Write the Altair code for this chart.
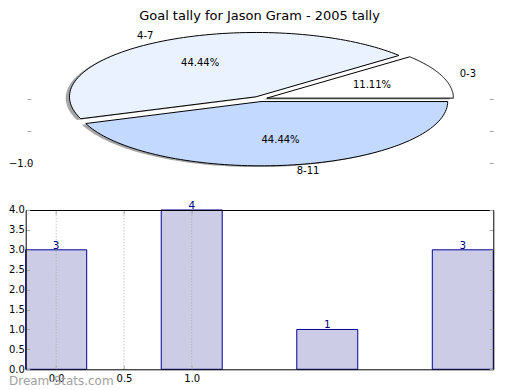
import altair as alt
import pandas as pd

# ---------------- data ----------------
pie_labels = ["0-3", "4-7", "8-11"]
pie_counts = [1, 4, 4]
pie_colors = ["#ffffff", "#eaf2ff", "#c3d9ff"]

bar_positions = [0, 1, 2, 3]
bar_counts = [3, 4, 1, 3]

pie_tick_values = [0.0, -0.5, -1.0]
bar_y_ticks = [0.0, 0.5, 1.0, 1.5, 2.0, 2.5, 3.0, 3.5, 4.0]
bar_x_ticks = [0.0, 0.5, 1.0]

chart_title = "Goal tally for Jason Gram - 2005 tally"
watermark = "Dream-Stats.com"

# ---------------- style / geometry ----------------
FONT = "DejaVu Sans"
W, H = 467.6, 349.3
EXPLODE = 0.04
SHADOW = 0.02
N = 90
BAR_HALF = 0.225
LABEL_DIST = 1.1
PCT_DIST = 0.6

pie_df = pd.DataFrame({"label": pie_labels, "value": pie_counts,
                       "order": list(range(len(pie_labels)))})
bar_df = pd.DataFrame({"pos": bar_positions, "count": bar_counts})
grid_df = pd.DataFrame({"tick": bar_x_ticks})

XP = alt.Scale(domain=[-1, 1], range=[47.5, 420.7], nice=False, zero=False)
YP = alt.Scale(domain=[-1, 1], range=[143.3, 14.7], nice=False, zero=False)
XB = alt.Scale(domain=[bar_positions[0] - BAR_HALF, bar_positions[-1] + BAR_HALF],
               range=[0, W], nice=False, zero=False)
YB = alt.Scale(domain=[0, max(bar_counts)], range=[H, 190], nice=False, zero=False)

TICKS = dict(tickColor="#aaaaaa", tickWidth=1, tickSize={"expr": "-4"},
             domainColor="black", domainWidth=1, grid=False,
             labelFont=FONT, labelFontSize=10, labelColor="black")

pie_left_axis = alt.Axis(orient="left", values=pie_tick_values, format=".1f",
                         labelExpr="datum.value == -1 ? datum.label : ''",
                         labelAlign="left", labelBaseline="middle", labelPadding=22.5,
                         offset=-1.3, domain=False, title=None, **TICKS)
pie_right_axis = alt.Axis(orient="right", values=pie_tick_values, labels=False,
                          domain=False, title=None, **TICKS)

bar_left_axis = alt.Axis(orient="left", values=bar_y_ticks, format=".1f",
                         labelPadding=5.4, labelBaseline="middle", zindex=1,
                         title=None, **TICKS)
bar_right_axis = alt.Axis(orient="right", values=bar_y_ticks, labels=False,
                          zindex=1, title=None, **TICKS)
bar_bottom_axis = alt.Axis(orient="bottom", values=bar_x_ticks, format=".1f",
                           labelPadding=8, zindex=1,
                           title=watermark, titleX=-17.2, titleY=15.5,
                           titleAlign="left", titleBaseline="alphabetic",
                           titleAngle=0, titleFont=FONT, titleFontSize=12,
                           titleFontWeight="normal", titleColor="#a0a0a0",
                           **TICKS)
bar_top_axis = alt.Axis(orient="top", values=bar_x_ticks, labels=False,
                        offset=-190, zindex=1, title=None, **TICKS)


def pie_base():
    return (
        alt.Chart(pie_df)
        .transform_window(cum="sum(value)", sort=[alt.SortField("order")])
        .transform_joinaggregate(total="sum(value)")
        .transform_calculate(a0="2*PI*(datum.cum - datum.value)/datum.total",
                             a1="2*PI*datum.cum/datum.total")
        .transform_calculate(mid="(datum.a0 + datum.a1)/2")
        .transform_calculate(ex=f"{EXPLODE}*cos(datum.mid)",
                             ey=f"{EXPLODE}*sin(datum.mid)")
    )


def pie_outline():
    return (
        pie_base()
        .transform_calculate(k=f"sequence(-1, {N + 2})")
        .transform_flatten(["k"])
        .transform_calculate(
            t=f"datum.a0 + (datum.a1 - datum.a0) * clamp(datum.k, 0, {N}) / {N}",
            rim=f"(datum.k >= 0 && datum.k <= {N}) ? 1 : 0")
        .transform_calculate(px="datum.ex + datum.rim * cos(datum.t)",
                             py="datum.ey + datum.rim * sin(datum.t)")
    )


shadow = (
    pie_outline()
    .transform_calculate(sx=f"datum.px - {SHADOW}", sy=f"datum.py - {SHADOW}")
    .mark_line(fill="#4d4d4d", fillOpacity=0.5, strokeOpacity=0, strokeWidth=0)
    .encode(x=alt.X("sx:Q", scale=XP, axis=None),
            y=alt.Y("sy:Q", scale=YP, axis=pie_right_axis),
            detail="label:N", order="k:Q")
)

slices = (
    pie_outline()
    .mark_line(stroke="black", strokeWidth=1)
    .encode(x=alt.X("px:Q", scale=XP, axis=None),
            y=alt.Y("py:Q", scale=YP, axis=pie_left_axis),
            fill=alt.Fill("label:N", scale=alt.Scale(domain=pie_labels, range=pie_colors),
                          legend=None),
            order="k:Q")
)

lab = pie_base().transform_calculate(
    lx=f"{LABEL_DIST + EXPLODE}*cos(datum.mid)",
    ly=f"{LABEL_DIST + EXPLODE}*sin(datum.mid)")

lab_right = (
    lab.transform_filter("datum.lx >= 0")
    .mark_text(align="left", baseline="middle", font=FONT, fontSize=10, color="black")
    .encode(x=alt.X("lx:Q", scale=XP, axis=None),
            y=alt.Y("ly:Q", scale=YP, axis=None), text="label:N")
)
lab_left = (
    lab.transform_filter("datum.lx < 0")
    .mark_text(align="right", baseline="middle", font=FONT, fontSize=10, color="black")
    .encode(x=alt.X("lx:Q", scale=XP, axis=None),
            y=alt.Y("ly:Q", scale=YP, axis=None), text="label:N")
)

pct = (
    pie_base()
    .transform_calculate(tx=f"{PCT_DIST + EXPLODE}*cos(datum.mid)",
                         ty=f"{PCT_DIST + EXPLODE}*sin(datum.mid)",
                         pct="format(100*datum.value/datum.total, '.2f') + '%'")
    .mark_text(align="center", baseline="middle", font=FONT, fontSize=10, color="black")
    .encode(x=alt.X("tx:Q", scale=XP, axis=None),
            y=alt.Y("ty:Q", scale=YP, axis=None), text="pct:N")
)

bars = (
    alt.Chart(bar_df)
    .transform_calculate(x0=f"datum.pos - {BAR_HALF}", x1=f"datum.pos + {BAR_HALF}")
    .mark_rect(fill="#ccccE6", stroke="#00009a", strokeWidth=1)
    .encode(x=alt.X("x0:Q", scale=XB, axis=bar_bottom_axis),
            x2="x1:Q",
            y=alt.Y("count:Q", scale=YB, axis=bar_left_axis),
            y2=alt.Y2Datum(0))
)

grid = (
    alt.Chart(grid_df)
    .mark_rule(stroke="#aaaaaa", strokeWidth=1, strokeDash=[1, 2])
    .encode(x=alt.X("tick:Q", scale=XB, axis=None),
            y=alt.YDatum(0, scale=YB, axis=None),
            y2=alt.Y2Datum(max(bar_counts)))
)

bar_labels = (
    alt.Chart(bar_df)
    .mark_text(baseline="alphabetic", dy=-1, font=FONT, fontSize=10.5, color="#000080")
    .encode(x=alt.X("pos:Q", scale=XB, axis=bar_top_axis),
            y=alt.Y("count:Q", scale=YB, axis=bar_right_axis),
            text="count:Q")
)

chart = (
    alt.layer(shadow, slices, lab_right, lab_left, pct, bars, grid, bar_labels)
    .resolve_scale(x="independent", y="independent")
    .properties(
        width=W, height=H,
        title=alt.Title(chart_title, font=FONT, fontSize=13, fontWeight="normal",
                        color="black", anchor="middle", frame="group",
                        baseline="alphabetic", offset=1.5, dy=14.5),
        padding={"left": 17.7, "top": 12, "right": 10, "bottom": 20},
        autosize=alt.AutoSizeParams(type="none"),
    )
    .configure_view(strokeWidth=0)
)

chart.save("out.html", embed_options={"renderer": "svg", "actions": False})
